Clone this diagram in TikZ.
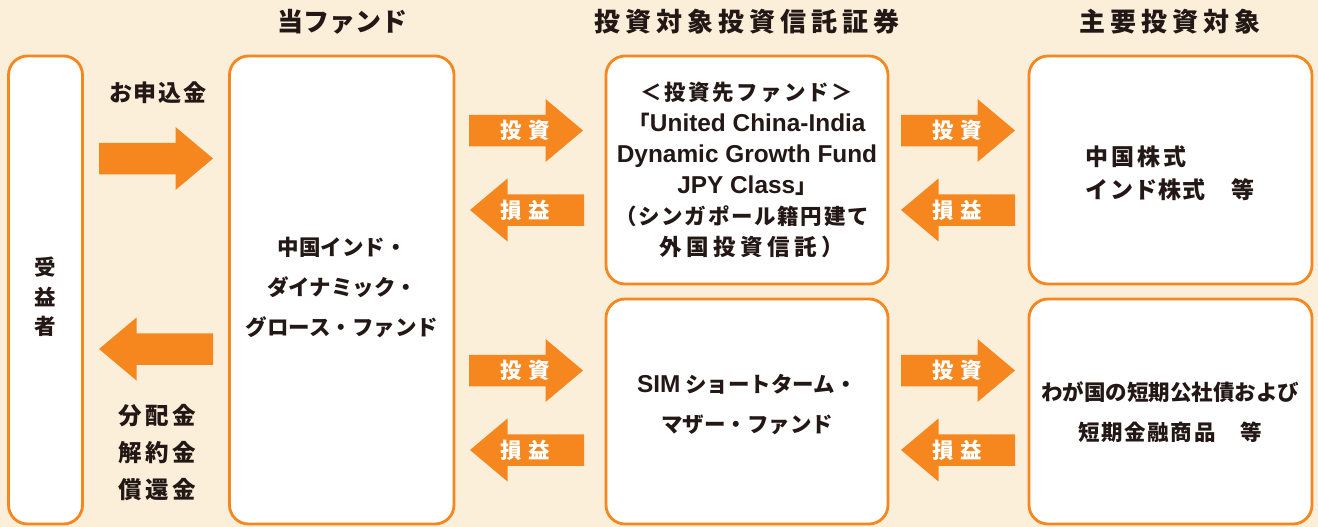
\documentclass[tikz,border=0pt]{standalone}
\usepackage{fontspec}
\setmainfont{Noto Sans CJK JP}
\newfontfamily\latf{Liberation Sans}
\definecolor{bg}{RGB}{251,239,218}
\definecolor{org}{RGB}{246,135,31}
\definecolor{ink}{RGB}{35,24,21}
\newcommand\lblgap{\kern7pt}
\newcommand\latin[1]{{\latf\bfseries\fontsize{24.4}{31}\selectfont #1}}
\makeatletter
\newcommand\trk[2]{\def\trk@k{#1\relax}\trk@go#2\trk@end}
\def\trk@go#1#2{#1\ifx#2\trk@end\else\kern\trk@k\expandafter\trk@go\expandafter#2\fi}
\makeatother
\begin{document}
\begin{tikzpicture}[x=1pt,y=-1pt,
  box/.style={rectangle, draw=org, line width=2.8pt, fill=white, rounded corners=19pt, inner sep=0pt},
  txt/.style={text=ink, font=\bfseries\fontsize{21.5}{31}\selectfont, align=center, inner sep=0pt},
  head/.style={text=ink, font=\bfseries\fontsize{26}{30}\selectfont, inner sep=0pt},
  alab/.style={text=white, font=\bfseries\fontsize{21.5}{24}\selectfont, inner sep=0pt},
  rarr/.pic={\fill[org] (0,-15.75) -- (76.5,-15.75) -- (76.5,-31.5) -- (114,0) -- (76.5,31.5) -- (76.5,15.75) -- (0,15.75) -- cycle;},
  larr/.pic={\fill[org] (0,0) -- (37.5,-31.5) -- (37.5,-15.75) -- (114,-15.75) -- (114,15.75) -- (37.5,15.75) -- (37.5,31.5) -- cycle;}
]
\fill[bg] (0,0) rectangle (1318,527);
\useasboundingbox (0,0) rectangle (1318,527);

% headers
\node[head] (h1) at (342,22) {当ファンド};
\node[head] (h2) at (747,22) {\trk{5pt}{投資対象投資信託証券}};
\node[head] (h3) at (1170,22) {\trk{5pt}{主要投資対象}};

% boxes
\node[box, minimum width=74pt, minimum height=468pt] (benef) at (45.5,290) {};
\node[box, minimum width=224.5pt, minimum height=468pt] (fund) at (341.75,290) {};
\node[box, minimum width=282pt, minimum height=228pt] (inv1) at (747,170) {};
\node[box, minimum width=282pt, minimum height=225pt] (inv2) at (747,411.5) {};
\node[box, minimum width=283pt, minimum height=228pt] (main1) at (1170.5,170) {};
\node[box, minimum width=283pt, minimum height=225pt] (main2) at (1170.5,411.5) {};

% box texts
\node[txt, font=\bfseries\fontsize{21.5}{29.5}\selectfont] (tbenef) at (45.5,297) {受\\益\\者};
\node[txt, font=\bfseries\fontsize{21.5}{40}\selectfont] (tfund) at (342,287) {中国インド・\\ダイナミック・\\グロース・ファンド};
\node[txt] (tinv1) at (747,170) {\trk{2.4pt}{＜投資先ファンド＞}\\「\latin{United China-India}\\\latin{Dynamic Growth Fund}\\\latin{JPY Class}」\\\kern-10pt\trk{1.7pt}{（シンガポール籍円建て}\\{\fontsize{22.5}{31}\selectfont\trk{4.5pt}{外国投資信託）}}\kern-10pt};
\node[txt, font=\bfseries\fontsize{21.5}{40}\selectfont] (tinv2) at (747,405) {\latin{SIM} ショートターム・\\マザー・ファンド};
\node[txt, align=left, font=\bfseries\fontsize{23}{33}\selectfont] (tmain1) at (1170,173.5) {\trk{3pt}{中国株式}\\\trk{1.2pt}{インド株式　等}};
\node[txt, font=\bfseries\fontsize{21.5}{40}\selectfont] (tmain2) at (1170,412) {わが国の短期公社債および\\\trk{1.7pt}{短期金融商品　等}};

% side labels
\node[txt, font=\bfseries\fontsize{23}{31}\selectfont] (apply) at (158,93) {\trk{2pt}{お申込金}};
\node[txt, font=\bfseries\fontsize{23.5}{37}\selectfont] (pay) at (157,452.5) {\trk{3.5pt}{分配金}\\\trk{3.5pt}{解約金}\\\trk{3.5pt}{償還金}};

% big arrows
\pic at (99,158.5) {rarr};
\pic at (99,349) {larr};

% small arrows
\pic at (469,130.5) {rarr};
\pic at (470,210) {larr};
\pic at (469,370.5) {rarr};
\pic at (470,450) {larr};
\pic at (901,130.5) {rarr};
\pic at (901,210) {larr};
\pic at (901,370.5) {rarr};
\pic at (901,450) {larr};

\node[alab] (a1) at (525,130.5) {投\lblgap 資};
\node[alab] (a2) at (525,210) {損\lblgap 益};
\node[alab] (a3) at (525,370.5) {投\lblgap 資};
\node[alab] (a4) at (525,450) {損\lblgap 益};
\node[alab] (a5) at (957,130.5) {投\lblgap 資};
\node[alab] (a6) at (957,210) {損\lblgap 益};
\node[alab] (a7) at (957,370.5) {投\lblgap 資};
\node[alab] (a8) at (957,450) {損\lblgap 益};
\end{tikzpicture}
\end{document}
